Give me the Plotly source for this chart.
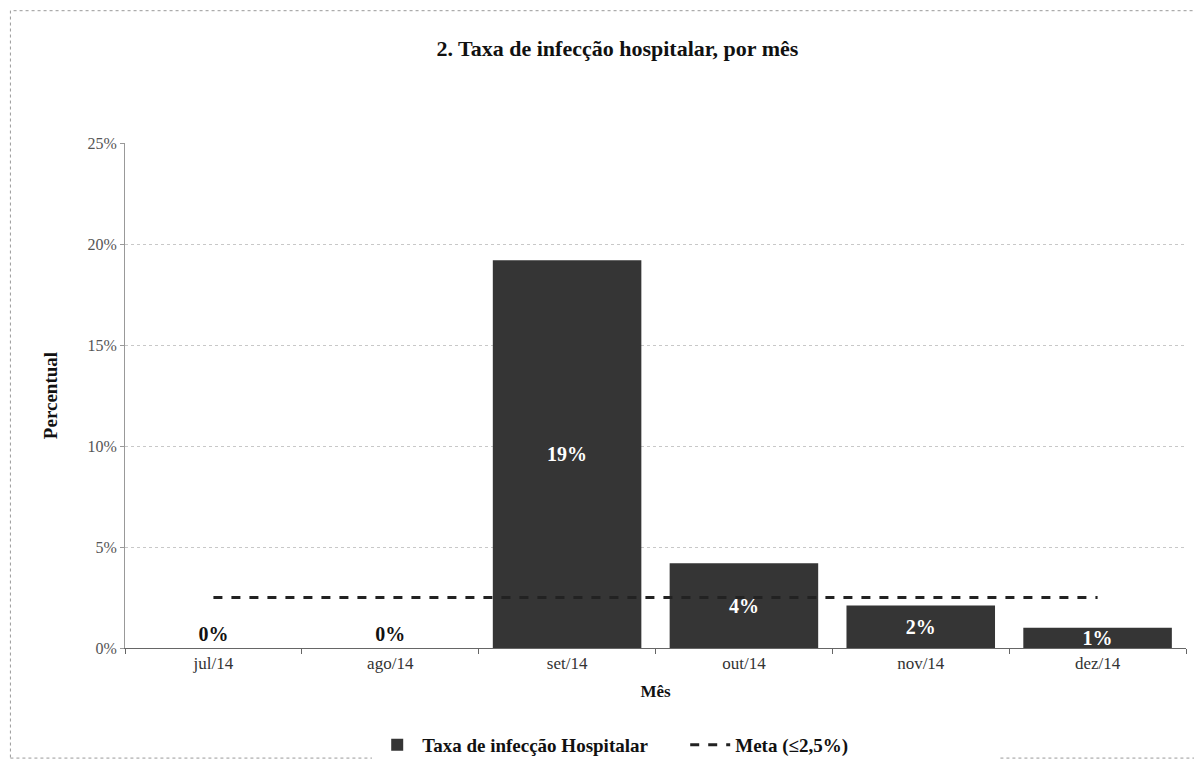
import plotly.graph_objects as go

months = ["jul/14", "ago/14", "set/14", "out/14", "nov/14", "dez/14"]
taxa = [0.0, 0.0, 19.2, 4.2, 2.1, 1.0]
meta = [2.5, 2.5, 2.5, 2.5, 2.5, 2.5]
y_ticks = [0, 5, 10, 15, 20, 25]
y_tick_text = ["0%", "5%", "10%", "15%", "20%", "25%"]

serif = "Liberation Serif, Times New Roman, serif"

text_pos = ["outside" if v == 0 else "inside" for v in taxa]
text_col = ["#111111" if v == 0 else "#ffffff" for v in taxa]

fig = go.Figure()
fig.add_trace(go.Bar(
    x=months, y=taxa, name="<b>Taxa de infecção Hospitalar</b>",
    marker=dict(color="#353535", line=dict(width=0)),
    texttemplate="<b>%{y:.0f}%</b>", textposition=text_pos,
    insidetextanchor="middle", textangle=0, constraintext="none",
    textfont=dict(family=serif, size=20, color=text_col),
    outsidetextfont=dict(family=serif, size=20, color="#111111"),
    cliponaxis=False,
))
fig.add_trace(go.Scatter(
    x=months, y=meta, mode="lines", name="<b>Meta (≤2,5%)</b>",
    line=dict(color="#222222", width=3, dash="dash"),
))

fig.update_layout(
    width=1202, height=774,
    paper_bgcolor="white", plot_bgcolor="white",
    margin=dict(l=117, r=24, t=135, b=134, autoexpand=False),
    bargap=0.16,
    uniformtext=dict(mode=False),
    font=dict(family=serif, color="#222222"),
    title=dict(text="<b>2. Taxa de infecção hospitalar, por mês</b>",
               x=0.507, xanchor="center", y=0.948, yanchor="middle",
               font=dict(family=serif, size=22, color="#111111")),
    showlegend=True,
    legend=dict(orientation="h", x=0.528, xanchor="center", y=-0.192, yanchor="middle",
                font=dict(family=serif, size=19, color="#111111"),
                traceorder="normal", itemwidth=40,
                entrywidth=258, entrywidthmode="pixels"),
    xaxis=dict(
        title=dict(text="<b>Mês</b>", font=dict(family=serif, size=17, color="#111111"), standoff=12),
        tickfont=dict(family=serif, size=17, color="#333333"),
        showline=True, linecolor="#666666", linewidth=1,
        ticks="outside", tickson="boundaries", ticklen=5, tickcolor="#666666",
        showgrid=False, automargin=False,
    ),
    yaxis=dict(
        title=dict(text="<b>Percentual</b>", font=dict(family=serif, size=19, color="#111111"), standoff=24),
        range=[0, 25], tickmode="array", tickvals=y_ticks, ticktext=y_tick_text,
        tickfont=dict(family=serif, size=16, color="#555555"),
        showline=True, linecolor="#999999", linewidth=1,
        ticks="outside", ticklen=4, tickcolor="#999999",
        showgrid=True, gridcolor="#c8c8c8", griddash="dot", gridwidth=1,
        zeroline=False, automargin=False,
    ),
)

fig.add_shape(type="rect", xref="paper", yref="paper",
              x0=-0.108, x1=1.013, y0=-0.218, y1=1.262,
              line=dict(color="#999999", width=1, dash="dot"))

fig.write_html("out.html")
